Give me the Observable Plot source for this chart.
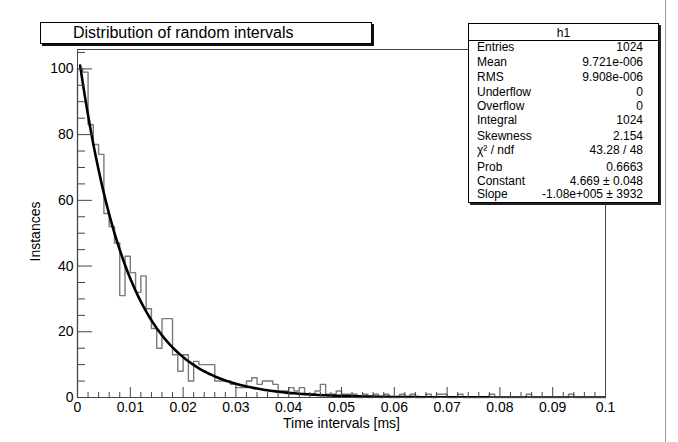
<!DOCTYPE html>
<html><head><meta charset="utf-8">
<script src="https://cdn.jsdelivr.net/npm/d3@7"></script>
<script src="https://cdn.jsdelivr.net/npm/@observablehq/plot@0.6"></script>
<style>
html,body{margin:0;padding:0;background:#fff;}
#wrap{position:relative;width:678px;height:442px;overflow:hidden;font-family:"Liberation Sans",Arial,Helvetica,sans-serif;color:#000;}
#wrap svg{position:absolute;left:0;top:0;}
.abs{position:absolute;white-space:nowrap;}
.box{position:absolute;background:#fff;border:1px solid #000;box-sizing:border-box;}
.row{position:absolute;font-size:12px;line-height:12px;height:12px;white-space:nowrap;}
</style></head><body><div id="wrap"></div>
<script>
// ---- data ----
const title = "Distribution of random intervals";
const xLabel = "Time intervals [ms]";
const yLabel = "Instances";
const binWidth = 0.001;          // ms
const counts = [
  100, 99, 83, 77, 74, 56, 52, 47, 31, 43,
  38, 32, 37, 27, 21, 15, 24, 24, 13, 8,
  13, 5, 11, 10, 10, 10, 5, 5, 5, 4,
  3, 3, 5, 6, 4, 5, 5, 4, 2, 2,
  3, 2, 3, 1, 1, 2, 4, 1, 1, 2,
  1, 1, 1, 0, 1, 0, 1, 0, 1, 0,
  0, 1, 0, 1, 0, 0, 1, 0, 1, 1,
  0, 0, 1, 0, 0, 0, 0, 0, 1, 0,
  0, 0, 0, 0, 0, 1, 0, 0, 0, 0,
  0, 0, 0, 1, 0, 0, 0, 0, 0, 0
];
const xMajor = [0, 0.01, 0.02, 0.03, 0.04, 0.05, 0.06, 0.07, 0.08, 0.09, 0.1];
const yMajor = [0, 20, 40, 60, 80, 100];
const statsTitle = "h1";
const statsLabels = ["Entries","Mean","RMS","Underflow","Overflow","Integral","Skewness","χ² / ndf","Prob","Constant","Slope"];
const statsValues = ["1024","9.721e-006","9.908e-006","0","0","1024","2.154","43.28 / 48","0.6663","4.669 ± 0.048","-1.08e+005 ± 3932"];
const fitConstant = 4.669;
const fitSlope = -1.08e5;        // per second; axis is in ms
const fitStart = 0.0005;

// ---- derived tables ----
const step = [{x: 0, y: 0}]
  .concat(counts.map((c, i) => ({x: i * binWidth, y: c})))
  .concat([{x: counts.length * binWidth, y: counts[counts.length - 1]}, {x: counts.length * binWidth, y: 0}]);
const fitCurve = d3.range(fitStart, 0.1, 0.0005).concat([0.1])
  .map(x => ({x, y: Math.exp(fitConstant + fitSlope * x / 1000)}));
const xMinor = d3.range(0, 51).map(i => i * 0.002).filter((v, i) => i % 5 !== 0);
const yMinor = d3.range(0, 22).map(i => i * 5).filter(v => v % 20 !== 0);

const W = 678, H = 442, mL = 77, mR = 73, mT = 49, mB = 45;
const pw = W - mL - mR, ph = H - mT - mB;
const ax = "#444";

const chart = Plot.plot({
  width: W, height: H,
  marginLeft: mL, marginRight: mR, marginTop: mT, marginBottom: mB,
  x: {domain: [0, 0.1], label: null},
  y: {domain: [0, 105.9], label: null},
  style: {fontFamily: "'Liberation Sans', Arial, Helvetica, sans-serif", fontSize: "14px", color: "#000", background: "transparent", overflow: "visible"},
  marks: [
    Plot.line(step, {x: "x", y: "y", curve: "step-after", stroke: "#7a7a7a", strokeWidth: 1.4}),
    Plot.line(fitCurve, {x: "x", y: "y", stroke: "#000", strokeWidth: 2.6, clip: true}),
    Plot.frame({stroke: ax, strokeWidth: 1}),
    Plot.tickY(yMajor, {y: d => d, insetRight: pw - 15, stroke: ax}),
    Plot.tickY(yMinor, {y: d => d, insetRight: pw - 8, stroke: ax}),
    Plot.tickX(xMajor, {x: d => d, insetTop: ph - 10, stroke: ax}),
    Plot.tickX(xMinor, {x: d => d, insetTop: ph - 5, stroke: ax}),
    Plot.axisY({ticks: yMajor, tickSize: 0, tickPadding: 4, tickFormat: d => String(d), fontSize: 14, label: null}),
    Plot.axisX({ticks: xMajor, tickSize: 0, tickPadding: 5, tickFormat: d => String(d), fontSize: 14, label: null}),
    Plot.text([xLabel], {text: d => d, frameAnchor: "bottom", textAnchor: "middle", lineAnchor: "middle", dy: 26, fontSize: 14}),
    Plot.text([yLabel], {text: d => d, frameAnchor: "left", textAnchor: "middle", lineAnchor: "middle", dx: -42, dy: 8, rotate: -90, fontSize: 14})
  ]
});
const wrap = document.getElementById("wrap");
wrap.appendChild(chart);

// ---- overlays: title pave, stats pave, canvas edge ----
function el(html) { const d = document.createElement("div"); d.innerHTML = html; return d.firstElementChild; }
wrap.appendChild(el(`<div class="box" style="left:40px;top:22px;width:332px;height:22px;box-shadow:2px 2px 0 #111;"></div>`));
wrap.appendChild(el(`<div class="abs" style="left:73px;top:23px;font-size:16px;line-height:20px;">${title}</div>`));

wrap.appendChild(el(`<div class="box" style="left:468px;top:23px;width:191px;height:180px;box-shadow:2px 2px 0 #222;"></div>`));
wrap.appendChild(el(`<div class="abs" style="left:469px;top:40px;width:189px;height:1px;background:#000;"></div>`));
wrap.appendChild(el(`<div class="row" style="left:468px;width:191px;text-align:center;top:27px;">${statsTitle}</div>`));
const rowY = [47, 62, 77, 91.5, 106, 120, 136, 150, 167, 181, 194];
statsLabels.forEach((lab, i) => {
  wrap.appendChild(el(`<div class="row" style="left:477px;top:${rowY[i] - 6}px;">${lab}</div>`));
  wrap.appendChild(el(`<div class="row" style="right:${W - 643}px;top:${rowY[i] - 6}px;text-align:right;">${statsValues[i]}</div>`));
});
wrap.appendChild(el(`<div class="abs" style="left:665px;top:0;width:1px;height:442px;background:#9a9a9a;"></div>`));
</script>
</body></html>
